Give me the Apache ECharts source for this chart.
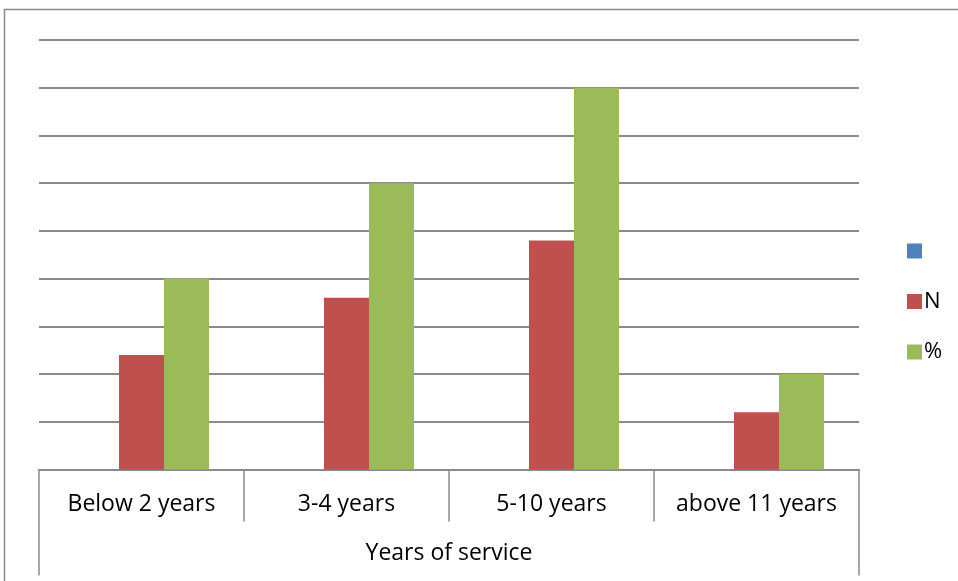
<!DOCTYPE html>
<html>
<head>
<meta charset="utf-8">
<script src="https://cdn.jsdelivr.net/npm/echarts@6/dist/echarts.min.js"></script>
<style>
  html, body {margin: 0; padding: 0; background: #fff;}
  #chart {width: 958px; height: 581px;}
</style>
</head>
<body>
<div id="chart"></div>
<script>
var categories = ['Below 2 years', '3-4 years', '5-10 years', 'above 11 years'];
var groupLabel = ['Years of service'];
var blankValues = [null, null, null, null];
var nValues = [12, 18, 24, 6];
var pctValues = [20, 30, 40, 10];

var chart = echarts.init(document.getElementById('chart'));
var lineColor = '#8a8a8a';
var font = 'Open Sans';

var option = {
    animation: false,
    textStyle: {fontFamily: font, color: '#000'},
    graphic: [{
        type: 'rect',
        shape: {x: 4.5, y: 9.5, width: 960, height: 580},
        style: {fill: 'none', stroke: lineColor, lineWidth: 1.5}
    }],
    legend: {
        orient: 'vertical',
        left: 902,
        top: 235,
        itemWidth: 15,
        itemHeight: 15,
        itemGap: 28.5,
        icon: 'rect',
        textStyle: {fontSize: 22, color: '#000', lineHeight: 15, fontFamily: font, padding: [0, 0, 0, -3]},
        data: [' ', 'N', '%']
    },
    grid: {left: 39, right: 99, top: 40, bottom: 111.5},
    xAxis: [{
        type: 'category',
        data: categories,
        axisLine: {lineStyle: {color: lineColor, width: 2}},
        axisTick: {show: true, interval: 0, length: 52, lineStyle: {color: lineColor, width: 1.5}},
        axisLabel: {interval: 0, fontSize: 23, color: '#000', margin: 23, lineHeight: 23, fontFamily: font}
    }, {
        type: 'category',
        data: groupLabel,
        position: 'bottom',
        offset: 52,
        axisLine: {show: false},
        axisTick: {show: true, interval: 0, length: 54, lineStyle: {color: lineColor, width: 1.5}},
        axisLabel: {interval: 0, fontSize: 23, color: '#000', margin: 20, lineHeight: 23, fontFamily: font}
    }],
    yAxis: {
        type: 'value',
        min: 0,
        max: 45,
        interval: 5,
        axisLabel: {show: false},
        axisLine: {show: false},
        axisTick: {show: false},
        splitLine: {lineStyle: {color: lineColor, width: 2}}
    },
    series: [
        {name: ' ', type: 'bar', data: blankValues, barWidth: 45, barGap: 0, itemStyle: {color: '#4f81bd'}},
        {name: 'N', type: 'bar', data: nValues, barWidth: 45, barGap: 0, itemStyle: {color: '#c0504d'}},
        {name: '%', type: 'bar', data: pctValues, barWidth: 45, barGap: 0, itemStyle: {color: '#9bbb59'}}
    ]
};
chart.setOption(option);
</script>
</body>
</html>
